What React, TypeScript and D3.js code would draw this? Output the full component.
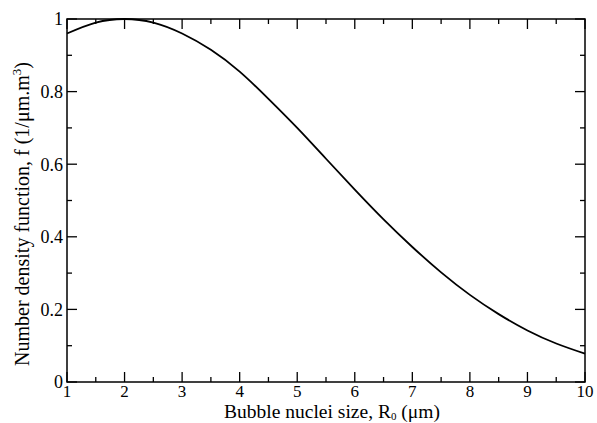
import * as d3 from "d3";
import { useEffect, useRef } from "react";

// values
const radius = [1, 1.5, 2, 2.5, 3, 3.5, 4, 4.5, 5, 5.5, 6, 6.5, 7, 7.5, 8, 8.5, 9, 9.5, 10];
const density = [0.96, 0.99, 1.0, 0.99, 0.96, 0.915, 0.855, 0.78, 0.7, 0.615, 0.53, 0.448, 0.372, 0.302, 0.24, 0.187, 0.142, 0.106, 0.078];
const xTicks = [1, 2, 3, 4, 5, 6, 7, 8, 9, 10];
const xMinor = [1.5, 2.5, 3.5, 4.5, 5.5, 6.5, 7.5, 8.5, 9.5];
const yTicks = [0, 0.2, 0.4, 0.6, 0.8, 1];
const yMinor = [0.1, 0.3, 0.5, 0.7, 0.9];

const W = 597;
const H = 423;
const margin = { top: 19, right: 12, bottom: 41, left: 67 };
const FONT = "'Liberation Serif', 'Times New Roman', serif";

export default function App() {
  const svgRef = useRef<SVGSVGElement>(null);

  useEffect(() => {
    const svg = d3.select(svgRef.current);
    svg.selectAll("*").remove();
    const innerW = W - margin.left - margin.right;
    const innerH = H - margin.top - margin.bottom;

    const x = d3.scaleLinear().domain([1, 10]).range([0, innerW]);
    const y = d3.scaleLinear().domain([0, 1]).range([innerH, 0]);

    const g = svg.append("g").attr("transform", `translate(${margin.left},${margin.top})`);

    // inward ticks on all four sides
    const major = 10;
    const minor = 5;
    const tickG = g.append("g").attr("stroke", "#000").attr("stroke-width", 1.3);
    for (const t of xTicks) {
      tickG.append("line").attr("x1", x(t)).attr("x2", x(t)).attr("y1", innerH).attr("y2", innerH - major);
      tickG.append("line").attr("x1", x(t)).attr("x2", x(t)).attr("y1", 0).attr("y2", major);
    }
    for (const t of xMinor) {
      tickG.append("line").attr("x1", x(t)).attr("x2", x(t)).attr("y1", innerH).attr("y2", innerH - minor);
      tickG.append("line").attr("x1", x(t)).attr("x2", x(t)).attr("y1", 0).attr("y2", minor);
    }
    for (const t of yTicks) {
      tickG.append("line").attr("y1", y(t)).attr("y2", y(t)).attr("x1", 0).attr("x2", major);
      tickG.append("line").attr("y1", y(t)).attr("y2", y(t)).attr("x1", innerW).attr("x2", innerW - major);
    }
    for (const t of yMinor) {
      tickG.append("line").attr("y1", y(t)).attr("y2", y(t)).attr("x1", 0).attr("x2", minor);
      tickG.append("line").attr("y1", y(t)).attr("y2", y(t)).attr("x1", innerW).attr("x2", innerW - minor);
    }

    // curve
    const line = d3
      .line<number>()
      .x((_, i) => x(radius[i]))
      .y((d) => y(d))
      .curve(d3.curveNatural);
    g.append("path")
      .datum(density)
      .attr("fill", "none")
      .attr("stroke", "#000")
      .attr("stroke-width", 1.8)
      .attr("d", line);

    // frame
    g.append("rect")
      .attr("width", innerW)
      .attr("height", innerH)
      .attr("fill", "none")
      .attr("stroke", "#000")
      .attr("stroke-width", 1.5);

    // tick labels
    g.selectAll("text.xl")
      .data(xTicks)
      .join("text")
      .attr("class", "xl")
      .attr("x", (d) => x(d))
      .attr("y", innerH + 15)
      .attr("text-anchor", "middle")
      .attr("font-size", 17)
      .text((d) => d3.format("d")(d));
    g.selectAll("text.yl")
      .data(yTicks)
      .join("text")
      .attr("class", "yl")
      .attr("x", -4)
      .attr("y", (d) => y(d))
      .attr("dy", "0.35em")
      .attr("text-anchor", "end")
      .attr("font-size", 18)
      .text((d) => (d === 0 || d === 1 ? String(d) : d3.format(".1f")(d)));

    // x title
    const xt = svg
      .append("text")
      .attr("x", 332)
      .attr("y", 418)
      .attr("text-anchor", "middle")
      .attr("font-size", 19.5);
    xt.append("tspan").text("Bubble nuclei size, R");
    xt.append("tspan").attr("font-size", 11).attr("dy", 2).text("0");
    xt.append("tspan").attr("dy", -2).text(" (\u03bcm)");

    // y title
    const yt = svg
      .append("text")
      .attr("transform", `translate(29,${214}) rotate(-90)`)
      .attr("text-anchor", "middle")
      .attr("font-size", 20);
    yt.append("tspan").text("Number density function, f (1/\u03bcm.m");
    yt.append("tspan").attr("font-size", 13).attr("dy", -8).text("3");
    yt.append("tspan").attr("dy", 8).text(")");
  }, []);

  return (
    <svg
      ref={svgRef}
      width={W}
      height={H}
      style={{ position: "absolute", left: 0, top: 0, background: "#fff", fontFamily: FONT }}
    />
  );
}
